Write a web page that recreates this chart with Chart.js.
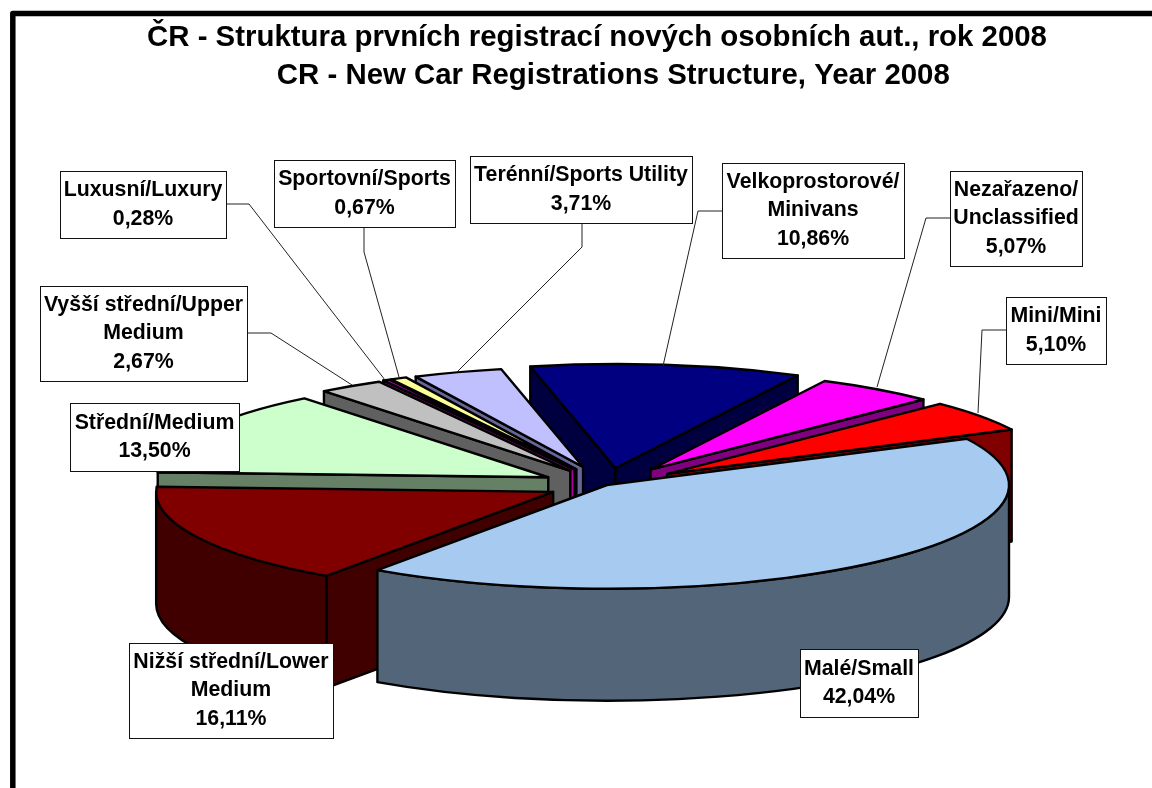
<!DOCTYPE html>
<html>
<head>
<meta charset="utf-8">
<style>html,body{margin:0;padding:0;background:#fff}canvas{display:block}</style>
<script src="https://cdn.jsdelivr.net/npm/chart.js@4/dist/chart.umd.min.js"></script>
</head>
<body>
<canvas id="c" width="1152" height="788"></canvas>
<script>
const categories = ["Malé/Small","Nižší střední/Lower Medium","Střední/Medium","Vyšší střední/Upper Medium","Luxusní/Luxury","Sportovní/Sports","Terénní/Sports Utility","Velkoprostorové/Minivans","Nezařazeno/Unclassified","Mini/Mini"];
const shares = [42.04,16.11,13.50,2.67,0.28,0.67,3.71,10.86,5.07,5.10];
const valueLabels = ["42,04%","16,11%","13,50%","2,67%","0,28%","0,67%","3,71%","10,86%","5,07%","5,10%"];
const topColors = ["#a6caf0","#800000","#ccffcc","#c0c0c0","#cc00cc","#ffff99","#c0c0ff","#000080","#ff00ff","#ff0000"];
const wallColors = ["#536579","#400000","#668066","#606060","#aa0099","#808040","#666699","#000040","#800080","#800000"];
const titleLines = ["ČR - Struktura prvních registrací nových osobních aut., rok 2008","    CR - New Car Registrations Structure, Year 2008"];
const labelLines = [["Malé/Small"],["Nižší střední/Lower","Medium"],["Střední/Medium"],["Vyšší střední/Upper","Medium"],["Luxusní/Luxury"],["Sportovní/Sports"],["Terénní/Sports Utility"],["Velkoprostorové/","Minivans"],["Nezařazeno/","Unclassified"],["Mini/Mini"]];

// 3D view geometry
const CX = 607, CY = 485, SQUASH = 0.258, DEPTH = 112, BASE_R = 397;
const explode = [0,60,66,66,68,68,74,66,74,74];
const radii   = [402,397,391,395,395,395,388,403,385,385];
// label boxes [left, top, right, bottom]; leader polyline points
const boxes = [[800,649,918,717],[129,643,333,738],[70,403,239,471],[40,286,247,381],[60,171,226,238],[274,160,455,227],[470,156,692,223],[722,163,904,258],[950,171,1082,266],[1006,297,1106,364]];
const leaders = [null,null,null,[[247,333],[271,333],[352,385]],[[226,204],[249,204],[385,380]],[[364,227],[364,252],[399,377]],[[582,223],[582,247],[457,372]],[[722,211],[698,211],[663,366]],[[950,218],[926,218],[877,387]],[[1006,330],[982,330],[978,413]]];

const pie3d = {
  id: 'pie3d',
  beforeDraw(chart) {
    const ctx = chart.ctx;
    ctx.save();
    ctx.fillStyle = '#fff';
    ctx.fillRect(0,0,chart.width,chart.height);
    ctx.strokeStyle = '#000';
    ctx.lineWidth = 5.5;
    ctx.lineJoin = 'round';
    ctx.strokeRect(12.8,13.5,1300,1000);
    ctx.restore();
  },
  beforeDatasetDraw(chart, args) {
    const ctx = chart.ctx, arcs = args.meta.data;
    const order = arcs.map((a,i)=>i).sort((p,q)=>{
      const m = i => Math.sin((arcs[i].startAngle+arcs[i].endAngle)/2);
      return m(p)-m(q);
    });
    ctx.save();
    ctx.lineWidth = 2.4;
    ctx.lineJoin = 'round';
    ctx.strokeStyle = '#000';
    for (const i of order) {
      const arc = arcs[i], s = arc.startAngle, e = arc.endAngle, mid = (s+e)/2;
      const cx = CX + Math.cos(mid)*explode[i];
      const cy = CY + Math.sin(mid)*explode[i]*SQUASH;
      const R = radii[i], RY = R*SQUASH;
      const f = R/arc.outerRadius;
      ctx.fillStyle = wallColors[i];
      // radial faces that look toward the viewer
      const face = (ang) => {
        const tx = cx+Math.cos(ang)*R, ty = cy+Math.sin(ang)*RY;
        ctx.beginPath();
        ctx.moveTo(cx,cy); ctx.lineTo(tx,ty); ctx.lineTo(tx,ty+DEPTH); ctx.lineTo(cx,cy+DEPTH); ctx.closePath();
        ctx.fill(); ctx.stroke();
      };
      if (Math.sin(s-Math.PI/2) > 0) face(s);
      if (Math.sin(e+Math.PI/2) > 0) face(e);
      // curved outer wall, front half only
      const a0 = Math.max(s,0), a1 = Math.min(e,Math.PI);
      if (a1 > a0) {
        ctx.beginPath();
        ctx.ellipse(cx,cy,R,RY,0,a0,a1);
        ctx.ellipse(cx,cy+DEPTH,R,RY,0,a1,a0,true);
        ctx.closePath();
        ctx.fill(); ctx.stroke();
      }
      // top face drawn by the library element
      ctx.save();
      ctx.translate(cx,cy);
      ctx.scale(f,f*SQUASH);
      ctx.translate(-arc.x,-arc.y);
      arc.draw(ctx);
      ctx.restore();
      ctx.beginPath();
      ctx.moveTo(cx,cy);
      ctx.ellipse(cx,cy,R,RY,0,s,e);
      ctx.closePath();
      ctx.stroke();
    }
    ctx.restore();
    return false;
  },
  afterDraw(chart) {
    const ctx = chart.ctx;
    ctx.save();
    ctx.strokeStyle = '#222';
    ctx.lineWidth = 1;
    leaders.forEach(pts => {
      if (!pts) return;
      ctx.beginPath();
      pts.forEach((p,j)=> j ? ctx.lineTo(p[0],p[1]) : ctx.moveTo(p[0],p[1]));
      ctx.stroke();
    });
    ctx.font = 'bold 21.3px "Liberation Sans"';
    ctx.textAlign = 'center';
    ctx.textBaseline = 'middle';
    categories.forEach((c,i)=>{
      const b = boxes[i];
      ctx.fillStyle = '#fff';
      ctx.fillRect(b[0],b[1],b[2]-b[0],b[3]-b[1]);
      ctx.strokeStyle = '#111';
      ctx.strokeRect(b[0]+.5,b[1]+.5,b[2]-b[0],b[3]-b[1]);
      const lines = labelLines[i].concat(valueLabels[i]);
      const lh = 28.5, mx = (b[0]+b[2])/2, my = (b[1]+b[3])/2;
      ctx.fillStyle = '#000';
      lines.forEach((t,j)=> ctx.fillText(t,mx,my+(j-(lines.length-1)/2)*lh));
    });
    ctx.restore();
  }
};

new Chart(document.getElementById('c'),{
  type:'pie',
  data:{labels:categories,datasets:[{data:shares,backgroundColor:topColors,borderWidth:0,radius:BASE_R}]},
  plugins:[pie3d],
  options:{
    responsive:false,animation:false,events:[],rotation:63.5,
    layout:{padding:{left:42}},
    plugins:{
      legend:{display:false},tooltip:{enabled:false},
      title:{display:true,text:titleLines,color:'#000',padding:{top:19,bottom:10},
        font:{family:'"Liberation Sans"',size:29.4,weight:'bold',lineHeight:'38px'}}
    }
  }
});
</script>
</body>
</html>
